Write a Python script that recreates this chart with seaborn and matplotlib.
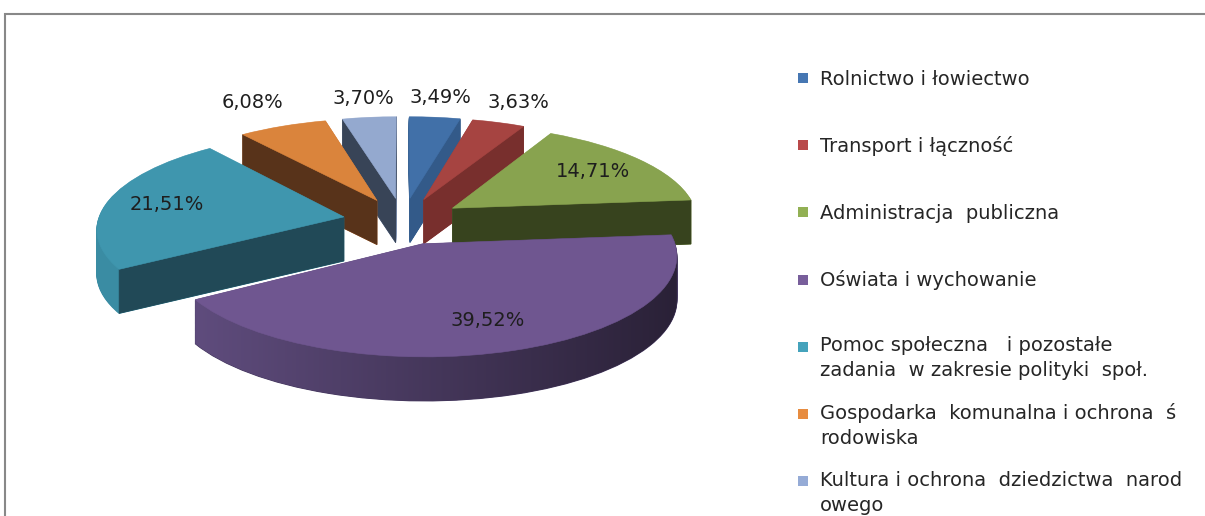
import numpy as np
import matplotlib
matplotlib.use("Agg")
import matplotlib.pyplot as plt
import seaborn as sns
from matplotlib.transforms import Transform, Affine2D
from matplotlib.patches import Rectangle, Polygon
from matplotlib.colors import LinearSegmentedColormap

# ---------------- data ----------------
categories = [
    "Rolnictwo i łowiectwo",
    "Transport i łączność",
    "Administracja  publiczna",
    "Oświata i wychowanie",
    "Pomoc społeczna   i pozostałe\nzadania  w zakresie polityki  społ.",
    "Gospodarka  komunalna i ochrona  ś\nrodowiska",
    "Kultura i ochrona  dziedzictwa  narod\nowego",
]
values = [3.49, 3.63, 14.71, 39.52, 21.51, 6.08, 3.70]

# ---------------- style ----------------
top_colors = ["#4170A8", "#A64441", "#88A34F", "#6F5690", "#3F96AE", "#DA843C", "#94A9CF"]
cut_colors = ["#335A89", "#782F2D", "#37431E", "#45385F", "#214957", "#58331A", "#384457"]
rim_colors = ["#3A6596", "#943C39", "#788F45", "#45385F", "#3A8CA3", "#C2733A", "#8497B8"]
legend_colors = ["#4677B3", "#B9494A", "#92B054", "#785E9B", "#45A3BC", "#E78C40", "#95ABD6"]
side_gradient = [None, None, None, ("#5F4C7D", "#2A2137"), None, None, None]
label_dist = [1.27, 1.30, 0.74, 0.74, 0.75, 1.36, 1.27]

sns.set_theme(style="white")
plt.rcParams["font.family"] = ["DejaVu Sans"]

W, H = 1205, 516
fig = plt.figure(figsize=(W / 100, H / 100), dpi=100)
fig.patch.set_facecolor("white")
ax = fig.add_axes([0, 0, 1, 1])

CX, CY = 403.0, 221.0       # pixel position of pie centre (top face)
SX, SY = 246.0, 95.3        # pixel per unit
P = 0.110                    # perspective strength
THICK = 44.0 / SY            # pie thickness in data units
EXPL = 0.245
NL = 50


class Persp(Transform):
    input_dims = 2
    output_dims = 2
    is_separable = False

    def __init__(self, p):
        super().__init__()
        self.p = p

    def transform_non_affine(self, values):
        v = np.asarray(values, dtype=float)
        w = 1.0 + self.p * v[:, 1]
        return np.column_stack([v[:, 0] / w, v[:, 1] / w])


persp = Persp(P)
pie_kw = dict(explode=[EXPL] * len(values), startangle=90, counterclock=False)

# top faces
tops, _ = ax.pie(values, colors=top_colors, **pie_kw)
mids = np.deg2rad([(w.theta1 + w.theta2) / 2 for w in tops])
depth = np.sin(mids)
order = np.argsort(-depth)
rank = np.empty(len(values), int)
rank[order] = np.arange(len(values))

for i, w in enumerate(tops):
    w.set_transform(persp + ax.transData)
    w.set_edgecolor(top_colors[i])
    w.set_linewidth(0.4)
    w.set_zorder(rank[i] * 100 + 99)

# side (rim) layers
for k in range(NL):
    dz = THICK * (1 - k / NL)
    ws, _ = ax.pie(values, colors=rim_colors, **pie_kw)
    for i, w in enumerate(ws):
        w.set_transform(persp + Affine2D().translate(0, -dz) + ax.transData)
        w.set_edgecolor(rim_colors[i])
        w.set_linewidth(0.8)
        w.set_zorder(rank[i] * 100 + k + 1)


def hull(pts):
    pts = sorted(map(tuple, pts))
    def cross(o, a, b):
        return (a[0] - o[0]) * (b[1] - o[1]) - (a[1] - o[1]) * (b[0] - o[0])
    lo, up = [], []
    for p_ in pts:
        while len(lo) >= 2 and cross(lo[-2], lo[-1], p_) <= 0:
            lo.pop()
        lo.append(p_)
    for p_ in reversed(pts):
        while len(up) >= 2 and cross(up[-2], up[-1], p_) <= 0:
            up.pop()
        up.append(p_)
    return np.array(lo[:-1] + up[:-1])


# gradient rim
for i, w in enumerate(tops):
    if side_gradient[i] is None:
        continue
    th = np.deg2rad(np.linspace(w.theta1, w.theta2, 120))
    cx, cy = w.center
    pts = np.vstack([[cx, cy], np.column_stack([cx + w.r * np.cos(th), cy + w.r * np.sin(th)])])
    pp = persp.transform(pts)
    allp = np.vstack([pp, pp - [0, THICK]])
    hp = hull(allp)
    cmap = LinearSegmentedColormap.from_list("g", list(side_gradient[i]))
    x0, x1 = hp[:, 0].min(), hp[:, 0].max()
    y0, y1 = hp[:, 1].min(), hp[:, 1].max()
    im = ax.imshow(np.linspace(0, 1, 256)[None, :], cmap=cmap, extent=[x0, x1, y0, y1],
                   aspect="auto", zorder=rank[i] * 100 + NL + 2, interpolation="bilinear")
    poly = Polygon(hp, closed=True, transform=ax.transData, facecolor="none", edgecolor="none")
    ax.add_patch(poly)
    im.set_clip_path(poly)

# visible radial cut faces
for i, w in enumerate(tops):
    cx, cy = w.center
    for phi, nrm in ((w.theta1, w.theta1 - 90), (w.theta2, w.theta2 + 90)):
        if np.sin(np.deg2rad(nrm)) >= 0:
            continue
        a = np.deg2rad(phi)
        pts = persp.transform(np.array([[cx, cy], [cx + w.r * np.cos(a), cy + w.r * np.sin(a)]]))
        quad = np.vstack([pts[0], pts[1], pts[1] - [0, THICK], pts[0] - [0, THICK]])
        ax.add_patch(Polygon(quad, closed=True, facecolor=cut_colors[i], edgecolor=cut_colors[i],
                             linewidth=0.5, zorder=rank[i] * 100 + NL + 5))

# data labels
for i, w in enumerate(tops):
    th = np.deg2rad((w.theta1 + w.theta2) / 2)
    cx, cy = w.center
    pos = persp.transform(np.array([[cx + label_dist[i] * np.cos(th), cy + label_dist[i] * np.sin(th)]]))[0]
    txt = f"{values[i]:.2f}".replace(".", ",") + "%"
    ax.text(pos[0], pos[1], txt, ha="center", va="center", fontsize=14,
            color="#1E1E1E", zorder=2000)

ax.set_xlim(-CX / SX, (W - CX) / SX)
ax.set_ylim((CY - H) / SY, CY / SY)
ax.set_aspect("auto")
ax.set_axis_off()

# legend
LINE = 23.0
for i, lab in enumerate(categories):
    yc = 78 + i * 67.2
    nlines = lab.count("\n") + 1
    fig.add_artist(Rectangle((798 / W, 1 - (yc + 5) / H), 10 / W, 10 / H,
                             transform=fig.transFigure, facecolor=legend_colors[i],
                             edgecolor="none"))
    fig.text(820 / W, 1 - (yc + 6.5 + (nlines - 1) * LINE) / H, lab, ha="left", va="baseline",
             fontsize=14, color="#262626", linespacing=1.39)

# chart border
fig.add_artist(Rectangle((4.5 / W, -0.05), 1.2, (H - 13.5) / H + 0.05,
                         transform=fig.transFigure, fill=False,
                         edgecolor="#888888", linewidth=1.5))

fig.savefig("out.png", dpi=100, facecolor="white")
